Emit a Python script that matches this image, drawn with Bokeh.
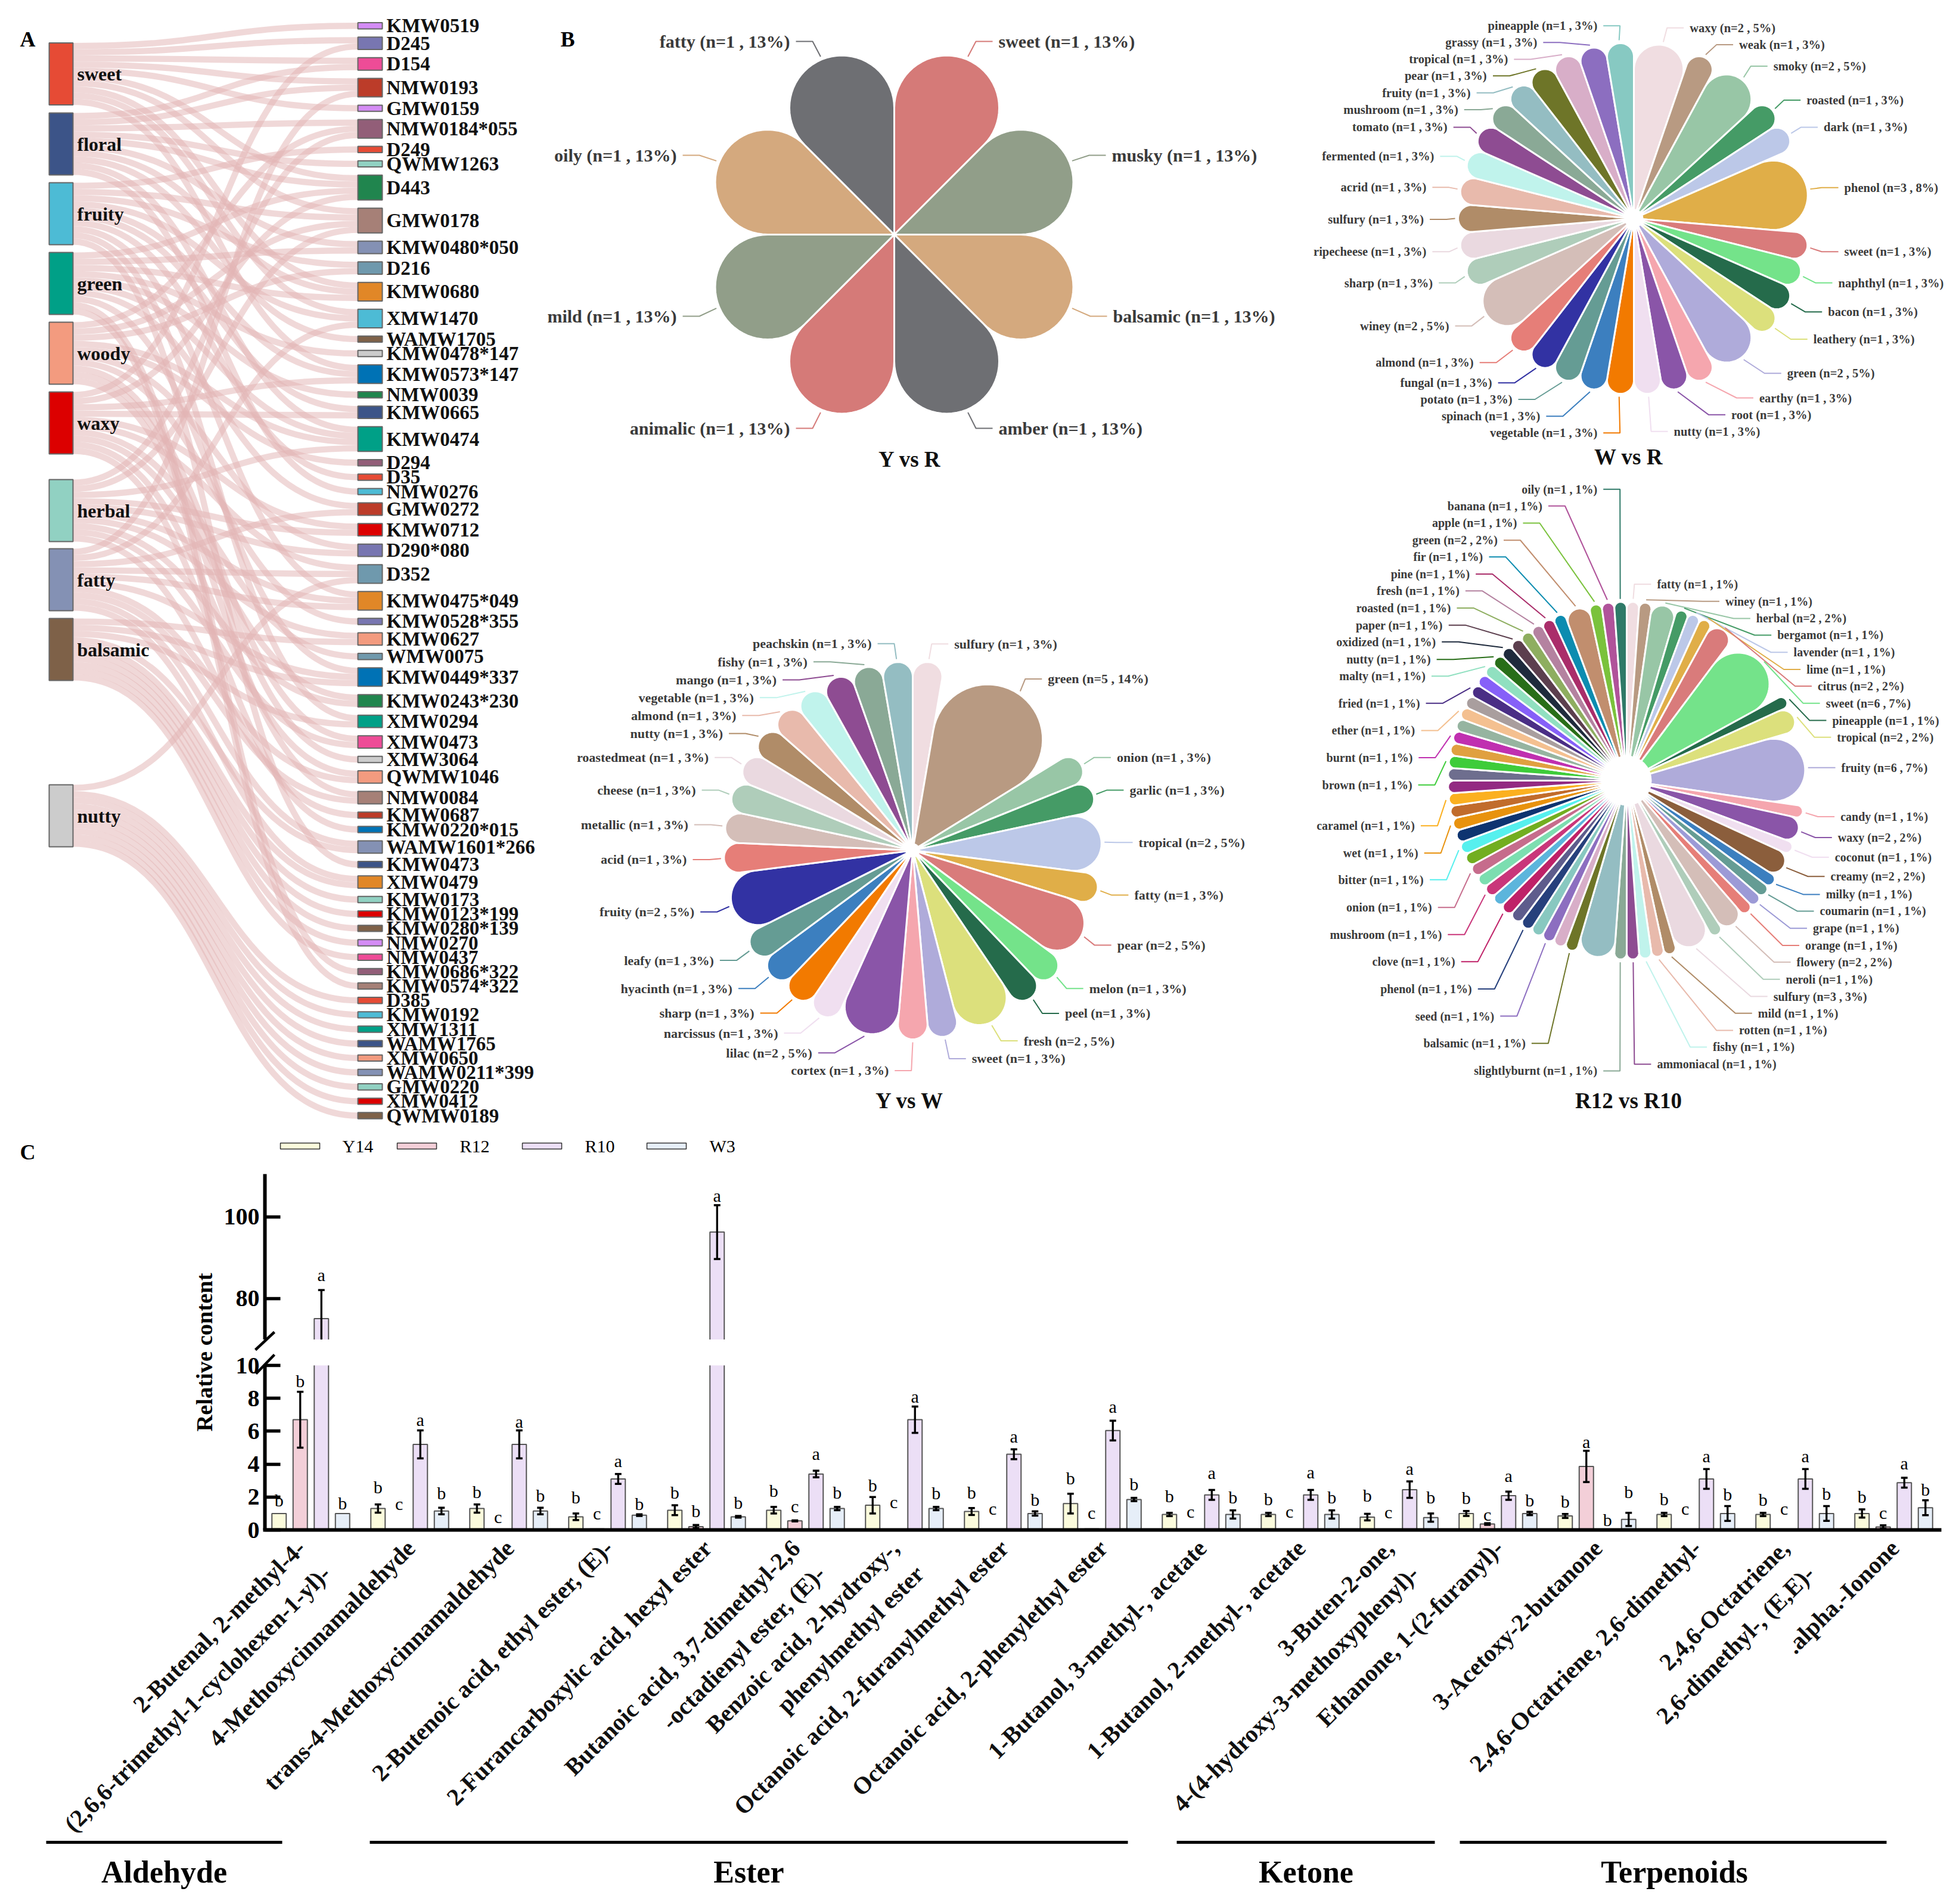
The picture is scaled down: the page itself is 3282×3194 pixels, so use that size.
import math
import numpy as np
from bokeh.plotting import figure
from bokeh.layouts import column
from bokeh.models import Range1d, FixedTicker
from bokeh.core.properties import value
from bokeh.embed import file_html
from bokeh.resources import INLINE

SERIF = value("Liberation Serif")

# ------------------------------------------------ panel A data
left_names = ["sweet", "floral", "fruity", "green", "woody", "waxy", "herbal", "fatty", "balsamic", "nutty"]
left_colors = ["#E64B35", "#3C5488", "#4DBBD5", "#00A087", "#F39B7F", "#DC0000", "#91D1C2", "#8491B4", "#7E6148", "#CCCCCC"]
left_tops = [71.5, 189, 306, 423, 540, 657, 804, 920, 1037, 1316]
right_names = ["KMW0519", "D245", "D154", "NMW0193", "GMW0159", "NMW0184*055", "D249", "QWMW1263", "D443", "GMW0178",
               "KMW0480*050", "D216", "KMW0680", "XMW1470", "WAMW1705", "KMW0478*147", "KMW0573*147", "NMW0039", "KMW0665", "KMW0474",
               "D294", "D35", "NMW0276", "GMW0272", "KMW0712", "D290*080", "D352", "KMW0475*049", "KMW0528*355", "KMW0627",
               "WMW0075", "KMW0449*337", "KMW0243*230", "XMW0294", "XMW0473", "XMW3064", "QWMW1046", "NMW0084", "KMW0687", "KMW0220*015",
               "WAMW1601*266", "KMW0473", "XMW0479", "KMW0173", "KMW0123*199", "KMW0280*139", "NMW0270", "NMW0437", "KMW0686*322", "KMW0574*322",
               "D385", "KMW0192", "XMW1311", "WAMW1765", "XMW0650", "WAMW0211*399", "GMW0220", "XMW0412", "QWMW0189"]
right_colors = ["#D48CF5", "#7876B1", "#EE4C97", "#BC3C29", "#D48CF5", "#925E78", "#E64B35", "#91D1C2", "#20854E", "#A68077",
                "#8491B4", "#6F99AD", "#E18727", "#4DBBD5", "#7E6148", "#CCCCCC", "#0072B5", "#20854E", "#3C5488", "#00A087",
                "#925E78", "#E64B35", "#4DBBD5", "#BC3C29", "#DC0000", "#7876B1", "#6F99AD", "#E18727", "#7876B1", "#F39B7F",
                "#6F99AD", "#0072B5", "#20854E", "#00A087", "#EE4C97", "#CCCCCC", "#F39B7F", "#A68077", "#BC3C29", "#0072B5",
                "#8491B4", "#3C5488", "#E18727", "#91D1C2", "#DC0000", "#7E6148", "#D48CF5", "#EE4C97", "#925E78", "#A68077",
                "#E64B35", "#4DBBD5", "#00A087", "#3C5488", "#F39B7F", "#8491B4", "#91D1C2", "#DC0000", "#7E6148"]
links_sweet = [0, 1, 2, 3, 4, 8, 9, 12, 13, 16]
links_floral = [2, 3, 5, 7, 8, 10, 12, 14, 19, 22]
links_fruity = [6, 9, 11, 13, 16, 18, 21, 27, 33, 41]
links_green = [8, 10, 12, 15, 17, 19, 23, 31, 48, 49]
links_woody = [5, 9, 11, 19, 20, 25, 28, 34, 35, 37]
links_waxy = [1, 8, 16, 18, 24, 26, 30, 32, 36, 39]
links_herbal = [5, 9, 19, 24, 25, 27, 29, 32, 34, 38]
links_fatty = [3, 13, 23, 26, 27, 31, 36, 37, 40, 42]
links_balsamic = [29, 31, 33, 40, 42, 43, 44, 45, 46, 47]
links_nutty = [26, 50, 51, 52, 53, 54, 55, 56, 57, 58]
all_links = [links_sweet, links_floral, links_fruity, links_green, links_woody,
             links_waxy, links_herbal, links_fatty, links_balsamic, links_nutty]

# ------------------------------------------------ panel B data
base_palette = ["#F0DDE1", "#B89A82", "#98C6A6", "#459B66", "#BCC8E8", "#E0AE48", "#D97B7B", "#74E38A", "#256B4B", "#DCE07C",
                "#AFABDA", "#F5A6AE", "#8A55A8", "#F0DFF0", "#F27A00", "#3C7FBF", "#659C94", "#3232A3", "#E67E78", "#D4BEB8",
                "#AFCDBA", "#EAD9E0", "#B08C68", "#E8BAAC", "#C0F3EC", "#8E4C92", "#8AA996", "#94BDC2", "#6E7528", "#D8AEC8",
                "#8C6EC0", "#87C9C2"]

yr_names = ["sweet", "musky", "balsamic", "amber", "animalic", "mild", "oily", "fatty"]
yr_n = [1, 1, 1, 1, 1, 1, 1, 1]
yr_colors = ["#D57A78", "#919E89", "#D4A97E", "#6E6F73", "#D57A78", "#919E89", "#D4A97E", "#6E6F73"]
yr_lx = [1675, 1865, 1867, 1675, 1325, 1135, 1135, 1325]
yr_ly = [69, 260, 530, 718, 718, 530, 260, 69]

wr_names = ["waxy", "weak", "smoky", "roasted", "dark", "phenol", "sweet", "naphthyl", "bacon", "leathery", "green", "earthy",
            "root", "nutty", "vegetable", "spinach", "potato", "fungal", "almond", "winey", "sharp", "ripecheese", "sulfury",
            "acrid", "fermented", "tomato", "mushroom", "fruity", "pear", "tropical", "grassy", "pineapple"]
wr_n = [2, 1, 2, 1, 1, 3, 1, 1, 1, 1, 2, 1, 1, 1, 1, 1, 1, 1, 1, 2, 1, 1, 1, 1, 1, 1, 1, 1, 1, 1, 1, 1]
wr_zx = [950, 1065, 1145, 1222, 1262, 1310, 1310, 1296, 1272, 1238, 1177, 1112, 1047, 913, 735, 602, 537, 490, 447, 390,
         352, 337, 331, 337, 355, 386, 411, 440, 478, 527, 595, 735]
wr_zy = [93, 150, 222, 337, 428, 632, 848, 953, 1051, 1143, 1258, 1341, 1398, 1454, 1459, 1403, 1346, 1290, 1222, 1098,
         953, 848, 739, 631, 526, 428, 369, 312, 255, 199, 142, 86]

yw_names = ["sulfury", "green", "onion", "garlic", "tropical", "fatty", "pear", "melon", "peel", "fresh", "sweet", "cortex",
            "lilac", "narcissus", "sharp", "hyacinth", "leafy", "fruity", "acid", "metallic", "cheese", "roastedmeat", "nutty",
            "almond", "vegetable", "mango", "fishy", "peachskin"]
yw_n = [1, 5, 1, 1, 2, 1, 2, 1, 1, 2, 1, 1, 2, 1, 1, 1, 1, 2, 1, 1, 1, 1, 1, 1, 1, 1, 1, 1]
yw_zx = [879, 1076, 1221, 1248, 1267, 1258, 1222, 1163, 1112, 1025, 916, 741, 580, 508, 458, 412, 373, 332, 316, 319, 335,
         362, 392, 420, 457, 505, 570, 705]
yw_zy = [92, 200, 443, 544, 706, 869, 1024, 1158, 1235, 1320, 1375, 1412, 1357, 1296, 1234, 1158, 1071, 921, 759, 651, 544,
         443, 369, 313, 258, 203, 147, 91]

rr_names = ["fatty", "winey", "herbal", "bergamot", "lavender", "lime", "citrus", "sweet", "pineapple", "tropical", "fruity",
            "candy", "waxy", "coconut", "creamy", "milky", "coumarin", "grape", "orange", "flowery", "neroli", "sulfury", "mild",
            "rotten", "fishy", "ammoniacal", "slightlyburnt", "", "balsamic", "", "seed", "", "phenol", "", "clove", "",
            "mushroom", "", "onion", "", "bitter", "", "wet", "", "caramel", "", "", "brown", "", "burnt", "", "ether", "",
            "fried", "", "malty", "nutty", "oxidized", "paper", "roasted", "fresh", "pine", "fir", "green", "apple", "banana", "oily"]
rr_n = [1, 1, 2, 1, 1, 1, 2, 6, 1, 2, 6, 1, 2, 1, 2, 1, 1, 1, 1, 2, 1, 3, 1, 1, 1, 1, 1, 3, 1, 1, 1, 1, 1, 1, 1, 1,
        1, 1, 1, 1, 1, 1, 1, 1, 1, 1, 1, 1, 1, 1, 1, 1, 1, 1, 1, 1, 1, 1, 1, 1, 1, 1, 1, 2, 1, 1, 1]
rr_colors = ["#F0DDE1", "#B89A82", "#98C6A6", "#459B66", "#BCC8E8", "#E0AE48", "#D97B7B", "#74E38A", "#256B4B", "#DCE07C", "#AFABDA",
             "#F5A6AE", "#8A55A8", "#F0DFF0", "#8B5E3C", "#3C7FBF", "#659C94", "#9C9AD6", "#E67E78", "#D4BEB8", "#AFCDBA", "#EAD9E0", "#B08C68",
             "#E8BAAC", "#C0F3EC", "#8E4C92", "#8AA996", "#94BDC2", "#6E7528", "#D8AEC8", "#8C6EC0", "#88C8C0", "#26407C", "#5E5C8C", "#BF2268", "#5CB5DC",
             "#C9367A", "#7CDEB0", "#C66C8C", "#72AE20", "#56F0EE", "#0E3470", "#E8920E", "#C16C2C", "#FBB020", "#932A82", "#6E6E8E", "#3ECC3A", "#E0A040", "#C030B0", "#96B4A0", "#F4C090", "#A99E9E",
             "#4A2E85", "#8660F8", "#90E0C0", "#286E18", "#1E2A3C", "#5C3F4E", "#8EAE60", "#B482A0", "#AA2D6A", "#0D8CB0", "#C18E6E", "#7AC23C", "#B0539A", "#2F7A68"]
rr_zx = [874, 1033, 1105, 1154, 1192, 1222, 1248, 1267, 1282, 1293, 1303, 1301, 1295, 1288, 1278, 1267, 1253, 1237, 1219, 1199,
         1174, 1145, 1109, 1065, 1004, 874, 735, None, 568, None, 495, None, 443, None, 404, None, 373, None, 350, None, 331, None,
         318, None, 310, None, None, 304, None, 305, None, 311, None, 322, None, 335, 347, 359, 375, 394, 414, 438, 469, 503, 548, 607, 735]
rr_zy = [270, 311, 352, 392, 433, 474, 514, 555, 596, 636, 709, 826, 876, 923, 969, 1012, 1052, 1093, 1134, 1174,
         1215, 1256, 1296, 1337, 1377, 1418, 1434, None, 1368, None, 1303, None, 1238, None, 1173, None, 1108, None, 1043, None, 977, None,
         913, None, 848, None, None, 750, None, 685, None, 620, None, 555, None, 490, 450, 408, 368, 327, 286, 246, 205, 165, 124, 83, 43]

# ------------------------------------------------ panel C data
compounds_line1 = ["2-Butenal, 2-methyl-4-", "4-Methoxycinnamaldehyde", "trans-4-Methoxycinnamaldehyde", "2-Butenoic acid, ethyl ester, (E)-",
                   "2-Furancarboxylic acid, hexyl ester", "Butanoic acid, 3,7-dimethyl-2,6", "Benzoic acid, 2-hydroxy-,",
                   "Octanoic acid, 2-furanylmethyl ester", "Octanoic acid, 2-phenylethyl ester", "1-Butanol, 3-methyl-, acetate",
                   "1-Butanol, 2-methyl-, acetate", "3-Buten-2-one,", "Ethanone, 1-(2-furanyl)-", "3-Acetoxy-2-butanone",
                   "2,4,6-Octatriene, 2,6-dimethyl-", "2,4,6-Octatriene,", ".alpha.-Ionone"]
compounds_line2 = ["(2,6,6-trimethyl-1-cyclohexen-1-yl)-", "", "", "", "", "-octadienyl ester, (E)-", "phenylmethyl ester", "", "", "", "",
                   "4-(4-hydroxy-3-methoxyphenyl)-", "", "", "", "2,6-dimethyl-, (E,E)-", ""]
series_names = ["Y14", "R12", "R10", "W3"]
series_colors = ["#FBFBDC", "#F3CFD8", "#ECDFF6", "#E6EEF8"]
Y14 = [1.0, 1.3, 1.3, 0.8, 1.2, 1.2, 1.5, 1.12, 1.6, 0.94, 0.94, 0.78, 1.0, 0.85, 0.94, 0.94, 1.0]
Y14_err = [0, 0.25, 0.25, 0.2, 0.3, 0.2, 0.5, 0.21, 0.6, 0.1, 0.1, 0.2, 0.15, 0.12, 0.1, 0.1, 0.25]
R12 = [6.7, 0, 0, 0.06, 0.2, 0.55, 0, 0.05, 0.06, 0, 0, 0, 0.36, 3.86, 0, 0, 0.18]
R12_err = [1.7, 0, 0, 0, 0.1, 0.03, 0, 0, 0, 0, 0, 0, 0.05, 0.95, 0, 0, 0.1]
R10 = [75.1, 5.2, 5.2, 3.1, 96.3, 3.4, 6.7, 4.6, 6.04, 2.13, 2.13, 2.45, 2.08, 0, 3.1, 3.1, 2.87]
R10_err = [7, 0.85, 0.85, 0.3, 6.6, 0.2, 0.8, 0.3, 0.6, 0.3, 0.3, 0.5, 0.25, 0, 0.6, 0.6, 0.3]
W3 = [1, 1.15, 1.15, 0.9, 0.8, 1.3, 1.3, 1.0, 1.85, 0.94, 0.94, 0.75, 1.0, 0.64, 1.0, 1.0, 1.35]
W3_err = [0, 0.2, 0.2, 0.05, 0.05, 0.1, 0.1, 0.13, 0.1, 0.25, 0.25, 0.25, 0.1, 0.4, 0.45, 0.45, 0.45]
Y14_let = list("bbbbbbbbbbbbbbbbb")
R12_let = list("bcccbccccccccaccc")
R10_let = list("aaaaaaaaaaaaabaaa")
W3_let = list("bbbbbbbbbbbbbbbbb")
Y14_let_y = [1.8, 2.6, 2.33, 2.0, 2.3, 2.4, 2.7, 2.3, 3.14, 2.08, 1.87, 2.1, 1.96, 1.75, 1.87, 1.85, 2.03]
R12_let_y = [9.04, 1.6, 0.8, 1.0, 1.15, 1.44, 1.7, 1.3, 1.05, 1.12, 1.12, 1.1, 0.94, 5.37, 1.3, 1.3, 1.05]
R10_let_y = [85.8, 6.7, 6.6, 4.2, 105.2, 4.64, 8.1, 5.7, 7.5, 3.47, 3.5, 3.74, 3.28, 0.63, 4.5, 4.5, 4.05]
W3_let_y = [1.63, 2.24, 2.1, 1.6, 1.66, 2.3, 2.24, 1.85, 2.8, 2.0, 2.0, 2.0, 1.8, 2.33, 2.17, 2.2, 2.47]
class_names = ["Aldehyde", "Ester", "Ketone", "Terpenoids"]
class_left = [77, 620, 1974, 2449]
class_right = [473, 1892, 2407, 3165]
class_label_x = [275, 1256, 2191, 2809]

# ================================================= top figure: canvas in image pixels
TOP_H = 1890
top = figure(width=3266, height=TOP_H, x_range=Range1d(0, 3266), y_range=Range1d(TOP_H, 0),
             x_axis_location=None, y_axis_location=None, toolbar_location=None,
             output_backend="svg", min_border=0, outline_line_color=None)
top.grid.visible = False
top.frame_align = False

# ---- Sankey
UNIT = 10.4
GAP = 13.77
R_TOP = 37.6
LX1, LX2, RX1, RX2 = 82, 122, 600, 641
counts = [sum(l.count(i) for l in all_links) for i in range(len(right_names))]
right_tops = []
cur = R_TOP
for c in counts:
    right_tops.append(cur)
    cur += c * UNIT + GAP
fill = [0] * len(right_names)
x0, y0, cx0, cy0, cx1, cy1, x1, y1 = [], [], [], [], [], [], [], []
xm = (LX2 + RX1) / 2
for s, tg in enumerate(all_links):
    for k, t in enumerate(sorted(tg)):
        ya = left_tops[s] + (k + 0.5) * UNIT
        yb = right_tops[t] + (fill[t] + 0.5) * UNIT
        fill[t] += 1
        x0.append(LX2); y0.append(ya); x1.append(RX1); y1.append(yb)
        cx0.append(xm); cy0.append(ya); cx1.append(xm); cy1.append(yb)
top.bezier(x0=x0, y0=y0, x1=x1, y1=y1, cx0=cx0, cy0=cy0, cx1=cx1, cy1=cy1,
           line_color="#E2B4B4", line_alpha=0.52, line_width=UNIT)
top.quad(left=[LX1] * 10, right=[LX2] * 10, top=left_tops, bottom=[t + 104 for t in left_tops],
         fill_color=left_colors, line_color="#666666", line_width=2)
top.quad(left=[RX1] * len(counts), right=[RX2] * len(counts), top=right_tops,
         bottom=[t + c * UNIT for t, c in zip(right_tops, counts)],
         fill_color=right_colors, line_color="#666666", line_width=2)
top.text(x=[129] * 10, y=[t + 52 for t in left_tops], text=left_names, text_font=SERIF, text_font_style="bold",
         text_font_size="32px", text_baseline="middle", text_color="#111111")
top.text(x=[648] * len(counts), y=[t + c * UNIT / 2 for t, c in zip(right_tops, counts)], text=right_names, text_font=SERIF,
         text_font_style="bold", text_font_size="33px", text_baseline="middle", text_color="#111111")


# ---- roses
def rose(names, ns, colors, cx, cy, R, lx, ly, font_px, hole, title, tx, ty):
    total = sum(ns)
    xs, ys = [], []
    ang = 0.0
    lead_x, lead_y, lab_x, lab_y, lab_t, lab_a, lab_c = [], [], [], [], [], [], []
    for name, n, col, ex, ey in zip(names, ns, colors, lx, ly):
        span = n / total * 2 * math.pi
        th = ang + span / 2
        a = span / 2
        d = R / (1 + math.sin(a))
        r = d * math.sin(a)
        betas = np.linspace(math.pi / 2 + a, -(math.pi / 2 + a), 41)
        u = np.concatenate([[0.0], d + r * np.cos(betas)])
        v = np.concatenate([[0.0], r * np.sin(betas)])
        xs.append(list(cx + u * math.sin(th) + v * math.cos(th)))
        ys.append(list(cy - u * math.cos(th) + v * math.sin(th)))
        if name:
            sx = cx + (R + 5) * math.sin(th)
            sy = cy - (R + 5) * math.cos(th)
            sgn = 1 if ex > cx else -1
            lead_x.append([sx, ex - sgn * 38, ex - sgn * 10])
            lead_y.append([sy, ey, ey])
            lab_x.append(ex); lab_y.append(ey)
            lab_t.append(f"{name} (n={n} , {int(n / total * 100 + 0.5)}%)")
            lab_a.append("left" if sgn > 0 else "right")
            lab_c.append(col)
        ang += span
    top.patches(xs, ys, fill_color=colors, line_color="white", line_width=3)
    if hole:
        top.circle(x=[cx], y=[cy], radius=hole, fill_color="white", line_color=None)
    top.multi_line(lead_x, lead_y, line_color=lab_c, line_width=2)
    top.text(x=lab_x, y=lab_y, text=lab_t, text_align=lab_a, text_baseline="middle", text_font=SERIF,
             text_font_style="bold", text_font_size=f"{font_px}px", text_color="#3A3A3A")
    top.text(x=[tx], y=[ty], text=[title], text_align="center", text_baseline="middle", text_font=SERIF,
             text_font_style="bold", text_font_size="37px", text_color="#111111")


rose(yr_names, yr_n, yr_colors, 1500, 393, 318, yr_lx, yr_ly, 30, 0, "Y vs R", 1526, 770)
rose(wr_names, wr_n, base_palette, 2741, 366, 295,
     [2150 + z * 0.7207 for z in wr_zx], [z * 0.4974 for z in wr_zy], 20.5, 16, "W vs R", 2732, 766)
rose(yw_names, yw_n, base_palette, 1531, 1426, 317,
     [900 + z * 0.7972 for z in yw_zx], [1030 + z * 0.5421 for z in yw_zy], 22, 12, "Y vs W", 1526, 1846)
rose(rr_names, rr_n, rr_colors, 2729, 1309, 300,
     [2150 + (z or 0) * 0.7207 for z in rr_zx], [790 + (z or 0) * 0.7015 for z in rr_zy], 20, 42, "R12 vs R10", 2732, 1846)

top.text(x=[33, 940], y=[65, 65], text=["A", "B"], text_baseline="middle", text_font=SERIF, text_font_style="bold",
         text_font_size="36px", text_color="black")

# ================================================= panel C
ZERO_PX, LOW_SCALE = 2566, 27.6
UP_PX, UP_SCALE = 2041, 6.85
GX0_PX, G_SCALE = 521, 166
TOP_PX, BOT_PX, AX_L, AX_R = TOP_H, 3186, 444, 3257


def Y(px):
    return (ZERO_PX - px) / LOW_SCALE


def YU(px):
    return 100 - (px - UP_PX) / UP_SCALE


def X(px):
    return (px - GX0_PX) / G_SCALE


low_ticks = [0, 2, 4, 6, 8, 10]
up_ticks = [80, 100]
up_tick_pos = [round(Y(UP_PX + (100 - v) * UP_SCALE), 3) for v in up_ticks]

p = figure(width=3266, height=BOT_PX - TOP_PX, x_range=Range1d(X(AX_L), X(AX_R)), y_range=Range1d(Y(BOT_PX), Y(TOP_PX)),
           x_axis_location=None, toolbar_location=None, output_backend="svg", outline_line_color=None,
           min_border_left=AX_L, min_border_right=3266 - AX_R, min_border_top=0, min_border_bottom=0)
p.frame_align = False
p.grid.visible = False
p.extra_y_ranges = {"upper": Range1d(YU(BOT_PX), YU(TOP_PX))}
ax = p.yaxis[0]
ax.ticker = FixedTicker(ticks=low_ticks + up_tick_pos)
ax.major_label_overrides = {pos: str(v) for pos, v in zip(up_tick_pos, up_ticks)}
ax.axis_line_color = None
ax.major_tick_in = 26
ax.major_tick_out = 0
ax.major_tick_line_width = 5.5
ax.major_tick_line_color = "black"
ax.minor_tick_line_color = None
ax.major_label_text_font = "Liberation Serif"
ax.major_label_text_font_style = "bold"
ax.major_label_text_font_size = "40px"
ax.major_label_text_color = "black"
ax.major_label_standoff = 9

BW = 24 / G_SCALE
STEP = 35.5 / G_SCALE
EDGE = "#555555"
groups = np.arange(len(Y14))
all_series = [(Y14, Y14_err, Y14_let, Y14_let_y), (R12, R12_err, R12_let, R12_let_y),
              (R10, R10_err, R10_let, R10_let_y), (W3, W3_err, W3_let, W3_let_y)]
for k, (vals, errs, lets, ly) in enumerate(all_series):
    vals = np.array(vals, float)
    errs = np.array(errs, float)
    ly = np.array(ly, float)
    xx = groups + (k - 1.5) * STEP
    big = vals > 10
    nb = ~big
    shown = nb & (vals > 0)
    p.vbar(x=xx[shown], top=vals[shown], bottom=0, width=BW, fill_color=series_colors[k], line_color=EDGE, line_width=2)
    if big.any():
        xb = xx[big]
        # lower part of a broken bar: open at the top
        p.vbar(x=xb, top=10, bottom=0, width=BW, fill_color=series_colors[k], line_color=None)
        p.segment(x0=np.r_[xb - BW / 2, xb + BW / 2], x1=np.r_[xb - BW / 2, xb + BW / 2], y0=0, y1=10, line_color=EDGE, line_width=2)
        # upper part of a broken bar: open at the bottom
        p.vbar(x=xb, top=vals[big], bottom=70, width=BW, fill_color=series_colors[k], line_color=None, y_range_name="upper")
        p.multi_line(xs=[[v - BW / 2, v - BW / 2, v + BW / 2, v + BW / 2] for v in xb],
                     ys=[[70, t, t, 70] for t in vals[big]], line_color=EDGE, line_width=2, y_range_name="upper")
        low_end = vals[big] - errs[big]
        p.segment(x0=xb, x1=xb, y0=np.maximum(low_end, 70), y1=vals[big] + errs[big], line_color="black", line_width=3.3,
                  y_range_name="upper")
        cap_x = np.r_[xb, xb[low_end >= 70]]
        cap_y = np.r_[vals[big] + errs[big], low_end[low_end >= 70]]
        p.scatter(x=cap_x, y=cap_y, marker="dash", size=11, line_color="black", line_width=3.5, y_range_name="upper")
        p.text(x=xb, y=ly[big], text=[lets[i] for i in np.where(big)[0]], text_align="center", text_baseline="middle",
               text_font=SERIF, text_font_size="30px", text_color="black", y_range_name="upper")
    sm = nb & (errs > 0)
    p.segment(x0=xx[sm], x1=xx[sm], y0=vals[sm] - errs[sm], y1=vals[sm] + errs[sm], line_color="black", line_width=3.3)
    p.scatter(x=np.r_[xx[sm], xx[sm]], y=np.r_[vals[sm] + errs[sm], vals[sm] - errs[sm]], marker="dash", size=11,
              line_color="black", line_width=3.5)
    p.text(x=xx[nb], y=ly[nb], text=[lets[i] for i in np.where(nb)[0]], text_align="center", text_baseline="middle",
           text_font=SERIF, text_font_size="30px", text_color="black")

# axis line pieces, baseline, axis-break marks
p.segment(x0=[X(AX_L)], x1=[X(AX_L)], y0=[0], y1=[10], line_color="black", line_width=6, level="overlay")
p.segment(x0=[X(AX_L)], x1=[X(AX_L)], y0=[70], y1=[YU(1969)], line_color="black", line_width=6, level="overlay",
          y_range_name="upper")
p.segment(x0=[X(441)], x1=[X(AX_R)], y0=[0], y1=[0], line_color="black", line_width=6, level="overlay")
p.segment(x0=[X(428), X(429)], x1=[X(460), X(460)], y0=[Y(2264), Y(2304)], y1=[Y(2234), Y(2272)], line_color="black", line_width=4.5,
          level="overlay")

# legend
leg_left = [470, 666, 876, 1085]
leg_text = [574, 771, 981, 1190]
p.quad(left=[X(v) for v in leg_left], right=[X(v + 66) for v in leg_left], top=[Y(1917)] * 4, bottom=[Y(1927)] * 4,
       fill_color=series_colors, line_color="#333333", line_width=1.5)
p.text(x=[X(v) for v in leg_text], y=[Y(1922)] * 4, text=series_names, text_baseline="middle", text_font=SERIF,
       text_font_size="30px", text_color="black")

# compound names
g_px = GX0_PX + groups * G_SCALE
one = [not s for s in compounds_line2]
x_l1 = [g + (2 if o else -16) for g, o in zip(g_px, one)]
p.text(x=[X(v) for v in x_l1], y=[Y(2590)] * len(x_l1), text=compounds_line1, angle=math.pi / 4, text_align="right",
       text_baseline="middle", text_font=SERIF, text_font_style="bold", text_font_size="40.5px", text_color="#111111", level="overlay")
p.text(x=[X(g + 26) for g, o in zip(g_px, one) if not o], y=[Y(2633)] * (len(one) - sum(one)),
       text=[s for s in compounds_line2 if s], angle=math.pi / 4, text_align="right",
       text_baseline="middle", text_font=SERIF, text_font_style="bold", text_font_size="40.5px", text_color="#111111", level="overlay")

# classes
p.segment(x0=[X(v) for v in class_left], x1=[X(v) for v in class_right], y0=[Y(3090)] * 4, y1=[Y(3090)] * 4,
          line_color="black", line_width=5, level="overlay")
p.text(x=[X(v) for v in class_label_x], y=[Y(3140)] * 4, text=class_names, text_align="center", text_baseline="middle",
       text_font=SERIF, text_font_style="bold", text_font_size="52px", text_color="black", level="overlay")

# outer texts
p.text(x=[X(342)], y=[Y(2268)], text=["Relative content"], angle=math.pi / 2, text_align="center", text_baseline="middle",
       text_font=SERIF, text_font_style="bold", text_font_size="38.5px", text_color="black", level="overlay")
p.text(x=[X(33)], y=[Y(1932)], text=["C"], text_baseline="middle", text_font=SERIF, text_font_style="bold",
       text_font_size="36px", text_color="black", level="overlay")

open("out.html", "w").write(file_html(column(top, p, spacing=0), INLINE))
